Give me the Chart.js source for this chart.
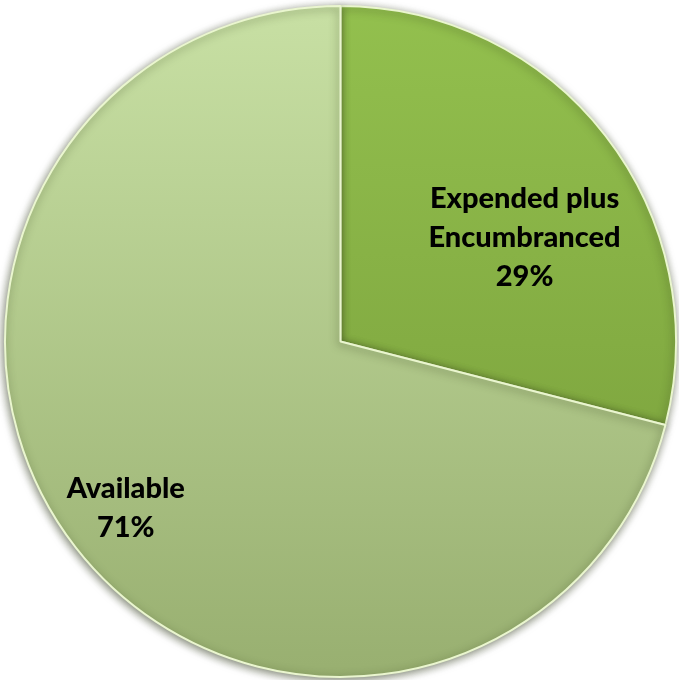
<!DOCTYPE html>
<html>
<head>
<meta charset="utf-8">
<title>Budget Status</title>
<script src="https://cdn.jsdelivr.net/npm/chart.js@4/dist/chart.umd.min.js"></script>
<style>
  html, body { margin: 0; padding: 0; background: #ffffff; }
  #wrap { width: 679px; height: 680px; position: relative; }
</style>
</head>
<body>
<div id="wrap"><canvas id="budgetChart"></canvas></div>
<script>
// Budget split
const sliceLabels = [["Expended plus", "Encumbranced"], ["Available"]];
const sliceValues = [29, 71];

// gradient stops per slice (top -> bottom)
const sliceColors = [["#93c04e", "#759a38"], ["#c8e0a4", "#98af70"]];
// where each label sits inside its slice (fraction of sweep, fraction of radius)
const labelSpots = [[0.58, 0.63], [0.5, 0.81]];

function sliceGradient(context) {
  const chart = context.chart;
  const area = chart.chartArea;
  if (!area) return sliceColors[context.dataIndex][1];
  const stops = sliceColors[context.dataIndex];
  const g = chart.ctx.createLinearGradient(0, area.top, 0, area.bottom);
  g.addColorStop(0, stops[0]);
  g.addColorStop(1, stops[1]);
  return g;
}

// soft drop shadow under the slices
const shadowPlugin = {
  id: "sliceShadow",
  beforeDatasetsDraw(chart) {
    const ctx = chart.ctx;
    ctx.save();
    ctx.shadowColor = "rgba(40, 50, 20, 0.6)";
    ctx.shadowBlur = 8;
    ctx.shadowOffsetX = -1;
    ctx.shadowOffsetY = 2;
  },
  afterDatasetsDraw(chart) {
    chart.ctx.restore();
  }
};

// category name + percentage drawn inside each slice
const labelPlugin = {
  id: "sliceLabels",
  afterDatasetsDraw(chart) {
    const ctx = chart.ctx;
    const meta = chart.getDatasetMeta(0);
    const total = sliceValues.reduce((a, b) => a + b, 0);
    ctx.save();
    ctx.font = "900 29px Lato, 'Open Sans', sans-serif";
    ctx.fillStyle = "#000000";
    ctx.textAlign = "center";
    ctx.textBaseline = "middle";
    meta.data.forEach((arc, i) => {
      const p = arc.getProps(["x", "y", "startAngle", "endAngle", "outerRadius"], true);
      const spot = labelSpots[i];
      const a = p.startAngle + (p.endAngle - p.startAngle) * spot[0];
      const r = p.outerRadius * spot[1];
      const cx = p.x + Math.cos(a) * r;
      const cy = p.y + Math.sin(a) * r;
      const lines = sliceLabels[i].concat([Math.round(sliceValues[i] / total * 100) + "%"]);
      const lh = 39;
      lines.forEach((txt, k) => {
        ctx.fillText(txt, cx, cy + (k - (lines.length - 1) / 2) * lh);
      });
    });
    ctx.restore();
  }
};

new Chart(document.getElementById("budgetChart"), {
  type: "pie",
  data: {
    labels: sliceLabels,
    datasets: [{
      data: sliceValues,
      backgroundColor: sliceGradient,
      borderColor: "#eaf6cf",
      borderWidth: 2
    }]
  },
  options: {
    responsive: true,
    maintainAspectRatio: false,
    animation: false,
    layout: { padding: { top: 3, left: 4, right: 2, bottom: 0 } },
    plugins: {
      legend: { display: false },
      tooltip: { enabled: false }
    }
  },
  plugins: [shadowPlugin, labelPlugin]
});
</script>
</body>
</html>
